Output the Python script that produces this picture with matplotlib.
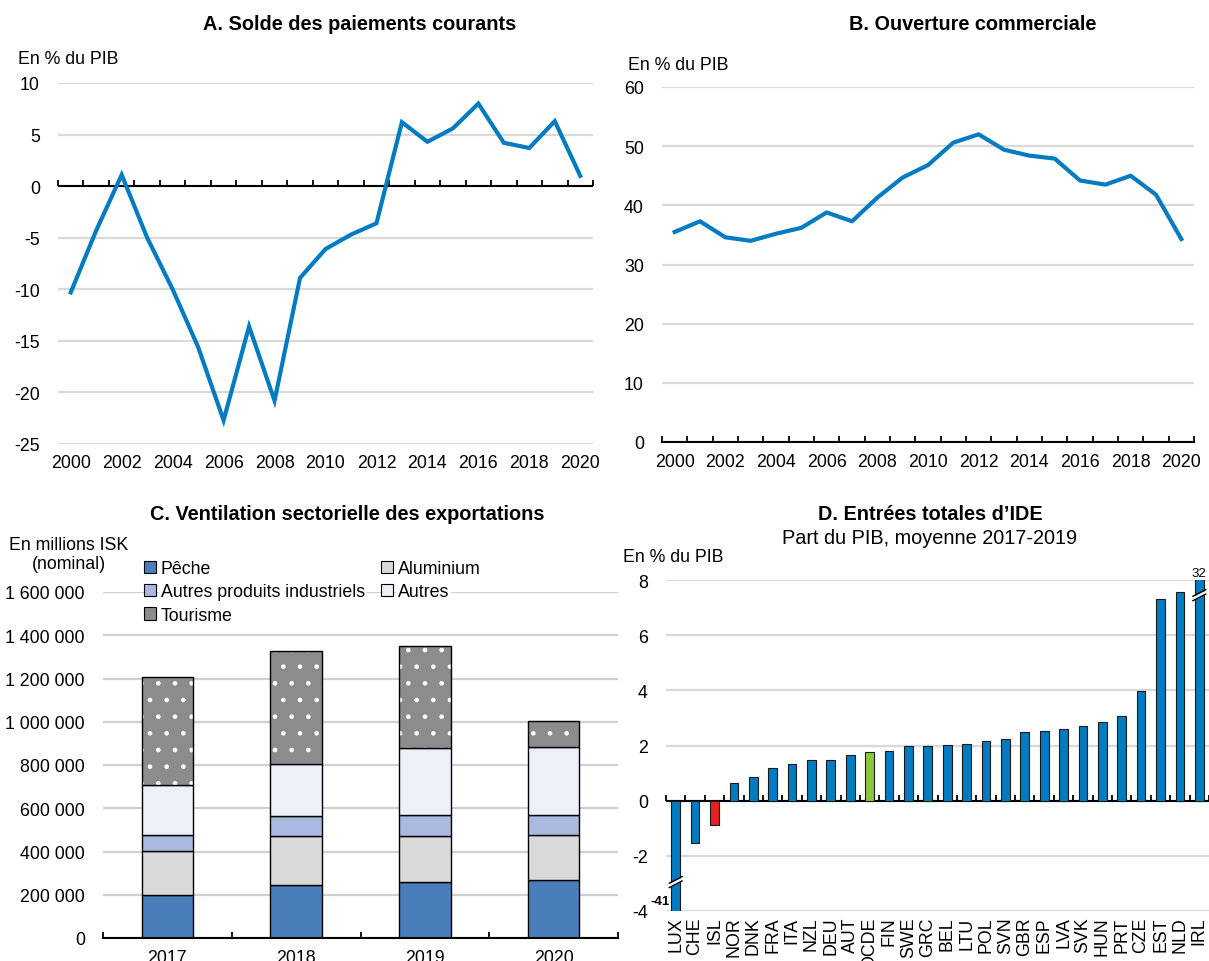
import matplotlib
matplotlib.use("Agg")
import matplotlib.pyplot as plt
from matplotlib.markers import TICKUP
from matplotlib.patches import Patch
import numpy as np

plt.rcParams["font.family"] = ["Liberation Sans", "DejaVu Sans"]
plt.rcParams["hatch.linewidth"] = 0.9
plt.rcParams["axes.unicode_minus"] = False

# ---- Data ----
years = list(range(2000, 2021))
current_account = [-10.3, -4.3, 1.1, -5.0, -10.0, -15.6, -22.7, -13.6, -20.8, -8.9,
                   -6.1, -4.7, -3.6, 6.2, 4.3, 5.6, 8.0, 4.2, 3.7, 6.3, 1.0]
trade_openness = [35.5, 37.3, 34.6, 34.0, 35.2, 36.2, 38.8, 37.3, 41.3, 44.7,
                  46.8, 50.6, 52.0, 49.4, 48.4, 47.9, 44.2, 43.5, 45.0, 41.8, 34.3]

export_years = ["2017", "2018", "2019", "2020"]
fishing = [197000, 243500, 259000, 266700]
aluminium = [204000, 228000, 211000, 208000]
other_industrial = [77000, 92000, 97000, 94000]
other_exports = [228000, 240000, 311000, 314000]
tourism = [501000, 523000, 473000, 120000]

fdi_countries = ["LUX", "CHE", "ISL", "NOR", "DNK", "FRA", "ITA", "NZL", "DEU", "AUT",
                 "OCDE", "FIN", "SWE", "GRC", "BEL", "LTU", "POL", "SVN", "GBR", "ESP",
                 "LVA", "SVK", "HUN", "PRT", "CZE", "EST", "NLD", "IRL"]
fdi_values = [-41, -1.54, -0.88, 0.63, 0.85, 1.19, 1.32, 1.47, 1.48, 1.65,
              1.78, 1.79, 1.97, 1.97, 2.02, 2.05, 2.15, 2.24, 2.50, 2.52,
              2.59, 2.70, 2.84, 3.06, 3.96, 7.30, 7.57, 32]

# ---- Style ----
BLUE = "#037bc1"
GRID = "#d9d9d9"
FS = 12.8
TFS = 14.3
W, H = 1209, 962

fig = plt.figure(figsize=(W / 100, H / 100), dpi=100)


def box(l, t, r, b):
    return [l / W, 1 - b / H, (r - l) / W, (b - t) / H]


def base_style(ax):
    for s in ax.spines.values():
        s.set_visible(False)
    ax.yaxis.grid(True, color=GRID, lw=1.6)
    ax.set_axisbelow(True)
    ax.tick_params(axis="y", length=0, pad=13, labelsize=FS)
    ax.tick_params(axis="x", which="major", length=0, labelsize=FS)


def zero_ticks(ax, bounds):
    ax.axhline(0, color="black", lw=1.5, zorder=2)
    ax.plot(bounds, np.zeros(len(bounds)), ls="none", marker=TICKUP, ms=4.5,
            mew=1.3, color="black", clip_on=False, zorder=2)


year_bounds = np.array(years + [years[-1] + 1]) - 0.5

# ---- A. Current account ----
axA = fig.add_axes(box(58, 84, 593, 445))
base_style(axA)
axA.plot(years, current_account, color=BLUE, lw=3, zorder=3, solid_joinstyle="miter")
axA.set_xlim(year_bounds[0], year_bounds[-1])
axA.set_ylim(-25, 10)
axA.set_yticks(range(-25, 11, 5))
axA.set_xticks(years[::2])
axA.tick_params(axis="x", pad=7)
zero_ticks(axA, year_bounds)
fig.text(360 / W, 1 - 24 / H, "A. Solde des paiements courants", ha="center", va="center",
         fontsize=TFS, fontweight="bold")
fig.text(18 / W, 1 - 60 / H, "En % du PIB", ha="left", va="center", fontsize=FS)

# ---- B. Trade openness ----
axB = fig.add_axes(box(662, 88, 1194, 443))
base_style(axB)
axB.plot(years, trade_openness, color=BLUE, lw=3, zorder=3)
axB.set_xlim(year_bounds[0], year_bounds[-1])
axB.set_ylim(0, 60)
axB.set_yticks(range(0, 61, 10))
axB.set_xticks(years[::2])
axB.spines["bottom"].set_visible(True)
axB.spines["bottom"].set_linewidth(1.5)
axB.set_xticks(year_bounds, minor=True)
axB.tick_params(axis="x", which="minor", direction="in", length=4.5, width=1.3)
axB.tick_params(axis="x", which="major", pad=8)
fig.text(973 / W, 1 - 24 / H, "B. Ouverture commerciale", ha="center", va="center",
         fontsize=TFS, fontweight="bold")
fig.text(628 / W, 1 - 65 / H, "En % du PIB", ha="left", va="center", fontsize=FS)

# ---- C. Exports by sector ----
axC = fig.add_axes(box(103, 593, 618, 939))
base_style(axC)
axC.yaxis.grid(True, color="#d0d0d0", lw=1.6)
xc = np.arange(len(export_years))
bw = 0.4
layers = [
    ("Pêche", fishing, "#4a7ebb", None),
    ("Aluminium", aluminium, "#d9d9d9", None),
    ("Autres produits industriels", other_industrial, "#a9b9e0", None),
    ("Autres", other_exports, "#edf0f8", None),
    ("Tourisme", tourism, "#8c8c8c", "."),
]
bottom = np.zeros(len(export_years))
handles = {}
for name, vals, col, hatch in layers:
    vals = np.array(vals, dtype=float)
    if hatch:
        axC.bar(xc, vals, bw, bottom=bottom, color=col, edgecolor="white", hatch=hatch,
                lw=0, zorder=2)
        axC.bar(xc, vals, bw, bottom=bottom, fill=False, edgecolor="black", lw=1, zorder=3)
    else:
        axC.bar(xc, vals, bw, bottom=bottom, color=col, edgecolor="black", lw=1, zorder=2)
    handles[name] = Patch(facecolor=col, edgecolor="black", lw=0.8)
    bottom += vals
axC.set_xlim(-0.5, len(export_years) - 0.5)
axC.set_ylim(0, 1600000)
ticksC = list(range(0, 1600001, 200000))
axC.set_yticks(ticksC)
axC.set_yticklabels([f"{v:,}".replace(",", " ") for v in ticksC])
axC.set_xticks(xc)
axC.set_xticklabels(export_years)
axC.spines["bottom"].set_visible(True)
axC.spines["bottom"].set_linewidth(1.5)
axC.set_xticks(np.arange(-0.5, len(export_years)), minor=True)
axC.tick_params(axis="x", which="minor", direction="in", length=4.5, width=1.3)
axC.tick_params(axis="x", which="major", pad=8)
order = ["Pêche", "Autres produits industriels", "Tourisme", "Aluminium", "Autres"]
leg = fig.legend([handles[n] for n in order], order, loc="upper left",
                 bbox_to_anchor=(144 / W, 1 - 561 / H), ncol=2, frameon=False,
                 fontsize=FS, handlelength=0.7, handleheight=0.7, handletextpad=0.25,
                 labelspacing=0.36, columnspacing=0.9, borderpad=0, borderaxespad=0)
for t in leg.get_texts():
    t.set_bbox(dict(facecolor="white", edgecolor="none", pad=1))
fig.text(347 / W, 1 - 515 / H, "C. Ventilation sectorielle des exportations", ha="center",
         va="center", fontsize=TFS, fontweight="bold")
fig.text(69 / W, 1 - 555 / H, "En millions ISK\n(nominal)", ha="center", va="center",
         fontsize=FS, multialignment="center", linespacing=1.1)

# ---- D. FDI inflows ----
axD = fig.add_axes(box(666, 581, 1209, 912))
base_style(axD)
xd = np.arange(len(fdi_countries))
colsD = [("#e3231b" if c == "ISL" else "#8dc63f" if c == "OCDE" else BLUE) for c in fdi_countries]
axD.bar(xd, fdi_values, 0.45, color=colsD, edgecolor="#1a1a1a", lw=0.8, zorder=3)
axD.set_xlim(-0.5, len(fdi_countries) - 0.5)
axD.set_ylim(-4, 8)
axD.set_yticks(range(-4, 9, 2))
axD.set_xticks(xd)
axD.set_xticklabels(fdi_countries, rotation=90, va="top")
axD.tick_params(axis="x", pad=4)
zero_ticks(axD, np.arange(-0.5, len(fdi_countries)))

# axis-break marks and labels for bars beyond the scale
ylo, yhi = axD.get_ylim()
for i, v in enumerate(fdi_values):
    if v < ylo or v > yhi:
        yb = -2.95 if v < 0 else 7.45
        xs = np.array([i - 0.33, i + 0.33])
        ys = np.array([yb - 0.12, yb + 0.12])
        axD.fill_between(xs, ys - 0.07, ys + 0.07, color="white", zorder=4, lw=0)
        axD.plot(xs, ys - 0.08, color="black", lw=1, zorder=5)
        axD.plot(xs, ys + 0.08, color="black", lw=1, zorder=5)
        if v < 0:
            axD.text(i - 0.3, -3.62, f"{v:g}", ha="right", va="center", fontsize=9.5,
                     fontweight="bold")
        else:
            axD.text(i, 8.05, f"{v:g}", ha="center", va="bottom", fontsize=9.5)
fig.text(930 / W, 1 - 515 / H, "D. Entrées totales d’IDE", ha="center", va="center",
         fontsize=TFS, fontweight="bold")
fig.text(930 / W, 1 - 539 / H, "Part du PIB, moyenne 2017-2019", ha="center", va="center",
         fontsize=TFS)
fig.text(623 / W, 1 - 558 / H, "En % du PIB", ha="left", va="center", fontsize=FS)

fig.savefig("out.png", dpi=100)
